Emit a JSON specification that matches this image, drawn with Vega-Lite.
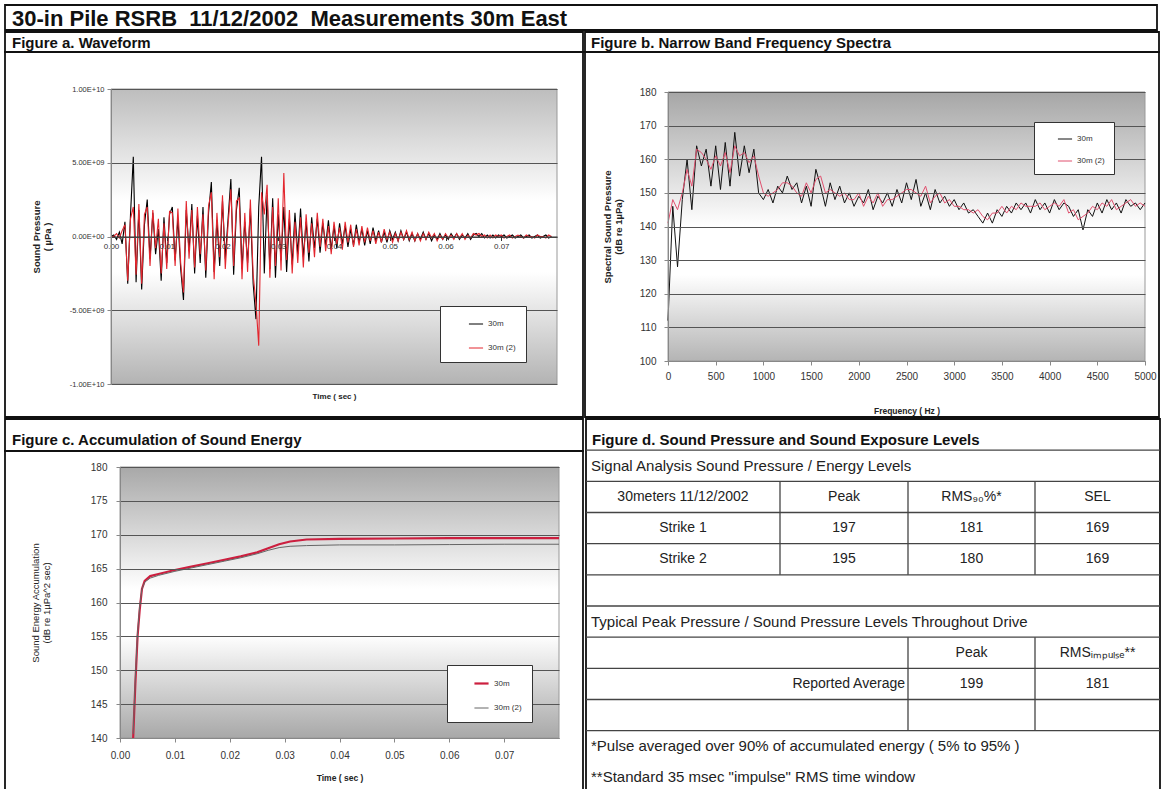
{
"$schema": "https://vega.github.io/schema/vega-lite/v6.json",
"background": "white",
"padding": {"left": 4, "top": 4, "right": 4, "bottom": 0},
"spacing": 0,
"bounds": "full",
"resolve": {"scale": {"x": "independent", "y": "independent", "color": "independent", "strokeWidth": "independent"}, "legend": {"color": "independent", "strokeWidth": "independent"}, "axis": {"x": "independent", "y": "independent"}},
"vconcat": [
{
"width": 1152, "height": 25,
"data": {"values": [{"t": "30-in Pile RSRB \u00a011/12/2002 \u00a0Measurements 30m East"}]},
"mark": {"type": "text", "align": "left", "dx": 7, "dy": 1, "fontSize": 22, "fontWeight": "bold", "color": "#111"},
"encoding": {"text": {"field": "t"}, "x": {"datum": 0, "type": "quantitative", "scale": {"domain": [0, 1]}, "axis": null}}
},
{
"hconcat": [
{
"vconcat": [
{
"width": 578, "height": 20,
"data": {"values": [{"t": "Figure a. Waveform"}]},
"mark": {"type": "text", "align": "left", "dx": 7, "dy": 1, "fontSize": 15, "fontWeight": "bold", "color": "#111"},
"encoding": {"text": {"field": "t"}, "x": {"datum": 0, "type": "quantitative", "scale": {"domain": [0, 1]}, "axis": null}}
},
{
"width": 578, "height": 365,
"layer": [
{
"data": {"values": [{}]},
"mark": {"type": "rect", "stroke": "#999", "strokeWidth": 1, "fill": {"gradient": "linear", "x1": 0, "y1": 0, "x2": 0, "y2": 1, "stops": [{"offset": 0, "color": "#bdbdbd"}, {"offset": 0.38, "color": "#ffffff"}, {"offset": 0.62, "color": "#ffffff"}, {"offset": 1, "color": "#b3b3b3"}]}},
"encoding": {
"x": {"datum": 0, "type": "quantitative", "scale": {"domain": [0, 0.08], "range": [106, 552], "nice": false, "zero": false}},
"x2": {"datum": 0.08},
"y": {"datum": -10000000000, "type": "quantitative", "scale": {"domain": [-10000000000, 10000000000], "range": [332, 37], "nice": false, "zero": false}},
"y2": {"datum": 10000000000}
}
},
{
"data": {"values": [
{"t":0,"30m":0,"30m (2)":0},
{"t":0.0005,"30m":0.1e9,"30m (2)":0},
{"t":0.001,"30m":-0.2e9,"30m (2)":0.2e9},
{"t":0.0015,"30m":0.3e9,"30m (2)":-0.1e9},
{"t":0.002,"30m":-0.5e9,"30m (2)":0.4e9},
{"t":0.0025,"30m":1.0e9,"30m (2)":0.8e9},
{"t":0.003,"30m":-3.2e9,"30m (2)":-3.0e9},
{"t":0.0035,"30m":1.5e9,"30m (2)":1.2e9},
{"t":0.004,"30m":5.4e9,"30m (2)":2.0e9},
{"t":0.0045,"30m":-3.1e9,"30m (2)":-2.6e9},
{"t":0.005,"30m":1.8e9,"30m (2)":2.2e9},
{"t":0.0055,"30m":-3.6e9,"30m (2)":-3.2e9},
{"t":0.006,"30m":0.8e9,"30m (2)":1.5e9},
{"t":0.0065,"30m":2.5e9,"30m (2)":2.0e9},
{"t":0.007,"30m":-1.5e9,"30m (2)":-2.0e9},
{"t":0.0075,"30m":1.6e9,"30m (2)":1.8e9},
{"t":0.008,"30m":-1.2e9,"30m (2)":-0.8e9},
{"t":0.0085,"30m":0.5e9,"30m (2)":1.2e9},
{"t":0.009,"30m":-3.0e9,"30m (2)":-2.5e9},
{"t":0.0095,"30m":1.3e9,"30m (2)":0.9e9},
{"t":0.01,"30m":-1.8e9,"30m (2)":-2.2e9},
{"t":0.0105,"30m":1.5e9,"30m (2)":1.7e9},
{"t":0.011,"30m":2.0e9,"30m (2)":1.6e9},
{"t":0.0115,"30m":-1.6e9,"30m (2)":-2.0e9},
{"t":0.012,"30m":1.2e9,"30m (2)":1.9e9},
{"t":0.0125,"30m":-2.2e9,"30m (2)":-1.8e9},
{"t":0.013,"30m":-4.3e9,"30m (2)":-3.8e9},
{"t":0.0135,"30m":1.8e9,"30m (2)":2.4e9},
{"t":0.014,"30m":-1.0e9,"30m (2)":-1.5e9},
{"t":0.0145,"30m":2.2e9,"30m (2)":1.8e9},
{"t":0.015,"30m":-2.5e9,"30m (2)":-2.1e9},
{"t":0.0155,"30m":1.4e9,"30m (2)":2.0e9},
{"t":0.016,"30m":-1.8e9,"30m (2)":-1.2e9},
{"t":0.0165,"30m":2.0e9,"30m (2)":1.5e9},
{"t":0.017,"30m":-2.8e9,"30m (2)":-2.3e9},
{"t":0.0175,"30m":1.6e9,"30m (2)":2.1e9},
{"t":0.018,"30m":3.7e9,"30m (2)":3.0e9},
{"t":0.0185,"30m":-2.4e9,"30m (2)":-2.9e9},
{"t":0.019,"30m":1.1e9,"30m (2)":1.6e9},
{"t":0.0195,"30m":-2.0e9,"30m (2)":-1.4e9},
{"t":0.02,"30m":2.4e9,"30m (2)":2.8e9},
{"t":0.0205,"30m":-1.5e9,"30m (2)":-2.2e9},
{"t":0.021,"30m":1.2e9,"30m (2)":0.8e9},
{"t":0.0215,"30m":3.9e9,"30m (2)":3.2e9},
{"t":0.022,"30m":-2.6e9,"30m (2)":-2.0e9},
{"t":0.0225,"30m":1.8e9,"30m (2)":2.4e9},
{"t":0.023,"30m":3.3e9,"30m (2)":2.6e9},
{"t":0.0235,"30m":-2.2e9,"30m (2)":-2.9e9},
{"t":0.024,"30m":1.0e9,"30m (2)":1.6e9},
{"t":0.0245,"30m":-1.8e9,"30m (2)":-2.4e9},
{"t":0.025,"30m":1.9e9,"30m (2)":2.5e9},
{"t":0.0255,"30m":-3.2e9,"30m (2)":-2.6e9},
{"t":0.026,"30m":-5.6e9,"30m (2)":-4.5e9},
{"t":0.0265,"30m":2.0e9,"30m (2)":-7.4e9},
{"t":0.027,"30m":5.4e9,"30m (2)":3.0e9},
{"t":0.0275,"30m":-2.5e9,"30m (2)":1.5e9},
{"t":0.028,"30m":2.8e9,"30m (2)":3.5e9},
{"t":0.0285,"30m":-2.2e9,"30m (2)":-2.8e9},
{"t":0.029,"30m":2.6e9,"30m (2)":2.0e9},
{"t":0.0295,"30m":-2.8e9,"30m (2)":-2.0e9},
{"t":0.03,"30m":1.5e9,"30m (2)":2.6e9},
{"t":0.0305,"30m":-1.6e9,"30m (2)":-2.3e9},
{"t":0.031,"30m":2.0e9,"30m (2)":4.3e9},
{"t":0.0315,"30m":-2.4e9,"30m (2)":-1.6e9},
{"t":0.032,"30m":1.2e9,"30m (2)":1.8e9},
{"t":0.0325,"30m":-1.9e9,"30m (2)":-2.5e9},
{"t":0.033,"30m":1.6e9,"30m (2)":1.0e9},
{"t":0.0335,"30m":-1.2e9,"30m (2)":-1.8e9},
{"t":0.034,"30m":1.9e9,"30m (2)":1.3e9},
{"t":0.0345,"30m":-1.4e9,"30m (2)":-2.1e9},
{"t":0.035,"30m":1.0e9,"30m (2)":1.5e9},
{"t":0.0355,"30m":-1.7e9,"30m (2)":-1.1e9},
{"t":0.036,"30m":1.3e9,"30m (2)":0.9e9},
{"t":0.0365,"30m":-0.8e9,"30m (2)":-1.4e9},
{"t":0.037,"30m":1.2e9,"30m (2)":1.6e9},
{"t":0.0375,"30m":-1.1e9,"30m (2)":-0.7e9},
{"t":0.038,"30m":0.9e9,"30m (2)":1.2e9},
{"t":0.0385,"30m":-0.6e9,"30m (2)":-1.0e9},
{"t":0.039,"30m":1.1e9,"30m (2)":0.7e9},
{"t":0.0395,"30m":-0.9e9,"30m (2)":-1.2e9},
{"t":0.04,"30m":0.7e9,"30m (2)":1.0e9},
{"t":0.0405,"30m":-0.8e9,"30m (2)":-0.5e9},
{"t":0.041,"30m":0.9e9,"30m (2)":0.6e9},
{"t":0.0415,"30m":-0.5e9,"30m (2)":-0.9e9},
{"t":0.042,"30m":0.7e9,"30m (2)":1.0e9},
{"t":0.0425,"30m":-0.7e9,"30m (2)":-0.4e9},
{"t":0.043,"30m":0.5e9,"30m (2)":0.8e9},
{"t":0.0435,"30m":-0.6e9,"30m (2)":-0.7e9},
{"t":0.044,"30m":0.8e9,"30m (2)":0.5e9},
{"t":0.0445,"30m":-0.4e9,"30m (2)":-0.6e9},
{"t":0.045,"30m":0.5e9,"30m (2)":0.7e9},
{"t":0.0455,"30m":-0.6e9,"30m (2)":-0.4e9},
{"t":0.046,"30m":0.4e9,"30m (2)":0.6e9},
{"t":0.0465,"30m":-0.5e9,"30m (2)":-0.3e9},
{"t":0.047,"30m":0.6e9,"30m (2)":0.4e9},
{"t":0.0475,"30m":-0.3e9,"30m (2)":-0.5e9},
{"t":0.048,"30m":0.4e9,"30m (2)":0.3e9},
{"t":0.0485,"30m":-0.4e9,"30m (2)":-0.4e9},
{"t":0.049,"30m":0.3e9,"30m (2)":0.5e9},
{"t":0.0495,"30m":-0.4e9,"30m (2)":-0.2e9},
{"t":0.05,"30m":0.4e9,"30m (2)":0.3e9},
{"t":0.0505,"30m":-0.2e9,"30m (2)":-0.4e9},
{"t":0.051,"30m":0.3e9,"30m (2)":0.2e9},
{"t":0.0515,"30m":-0.3e9,"30m (2)":-0.3e9},
{"t":0.052,"30m":0.4e9,"30m (2)":0.3e9},
{"t":0.0525,"30m":-0.2e9,"30m (2)":-0.2e9},
{"t":0.053,"30m":0.3e9,"30m (2)":0.4e9},
{"t":0.0535,"30m":-0.3e9,"30m (2)":-0.2e9},
{"t":0.054,"30m":0.2e9,"30m (2)":0.3e9},
{"t":0.0545,"30m":-0.3e9,"30m (2)":-0.3e9},
{"t":0.055,"30m":0.2e9,"30m (2)":0.2e9},
{"t":0.0555,"30m":-0.2e9,"30m (2)":-0.3e9},
{"t":0.056,"30m":0.3e9,"30m (2)":0.2e9},
{"t":0.0565,"30m":-0.2e9,"30m (2)":-0.2e9},
{"t":0.057,"30m":0.2e9,"30m (2)":0.3e9},
{"t":0.0575,"30m":-0.3e9,"30m (2)":-0.1e9},
{"t":0.058,"30m":0.1e9,"30m (2)":0.2e9},
{"t":0.0585,"30m":-0.2e9,"30m (2)":-0.3e9},
{"t":0.059,"30m":0.2e9,"30m (2)":0.1e9},
{"t":0.0595,"30m":-0.2e9,"30m (2)":-0.2e9},
{"t":0.06,"30m":0.1e9,"30m (2)":0.2e9},
{"t":0.0605,"30m":-0.2e9,"30m (2)":-0.1e9},
{"t":0.061,"30m":0.2e9,"30m (2)":0.1e9},
{"t":0.0615,"30m":-0.1e9,"30m (2)":-0.2e9},
{"t":0.062,"30m":0.2e9,"30m (2)":0.2e9},
{"t":0.0625,"30m":-0.2e9,"30m (2)":-0.1e9},
{"t":0.063,"30m":0.1e9,"30m (2)":0.2e9},
{"t":0.0635,"30m":-0.1e9,"30m (2)":-0.2e9},
{"t":0.064,"30m":0.2e9,"30m (2)":0.1e9},
{"t":0.0645,"30m":-0.2e9,"30m (2)":-0.1e9},
{"t":0.065,"30m":0.1e9,"30m (2)":0.2e9},
{"t":0.0655,"30m":0.2e9,"30m (2)":0.1e9},
{"t":0.066,"30m":0,"30m (2)":0.2e9},
{"t":0.0665,"30m":0.2e9,"30m (2)":0},
{"t":0.067,"30m":-0.1e9,"30m (2)":0.1e9},
{"t":0.0675,"30m":0.1e9,"30m (2)":-0.1e9},
{"t":0.068,"30m":-0.1e9,"30m (2)":0.1e9},
{"t":0.0685,"30m":0.1e9,"30m (2)":-0.1e9},
{"t":0.069,"30m":-0.1e9,"30m (2)":0.1e9},
{"t":0.0695,"30m":0.1e9,"30m (2)":0},
{"t":0.07,"30m":0,"30m (2)":0.1e9},
{"t":0.0705,"30m":0.1e9,"30m (2)":-0.1e9},
{"t":0.071,"30m":-0.1e9,"30m (2)":0},
{"t":0.0715,"30m":0,"30m (2)":0.1e9},
{"t":0.072,"30m":0.1e9,"30m (2)":-0.1e9},
{"t":0.0725,"30m":-0.1e9,"30m (2)":0},
{"t":0.073,"30m":0,"30m (2)":0.1e9},
{"t":0.0735,"30m":0.1e9,"30m (2)":0},
{"t":0.074,"30m":-0.1e9,"30m (2)":-0.1e9},
{"t":0.0745,"30m":0,"30m (2)":0.1e9},
{"t":0.075,"30m":0.1e9,"30m (2)":0},
{"t":0.0755,"30m":-0.1e9,"30m (2)":0},
{"t":0.076,"30m":0,"30m (2)":-0.1e9},
{"t":0.0765,"30m":0.1e9,"30m (2)":0.1e9},
{"t":0.077,"30m":-0.1e9,"30m (2)":0},
{"t":0.0775,"30m":0,"30m (2)":0},
{"t":0.078,"30m":0.1e9,"30m (2)":-0.1e9},
{"t":0.0785,"30m":-0.1e9,"30m (2)":0.1e9},
{"t":0.079,"30m":0,"30m (2)":0}
]},
"transform": [{"fold": ["30m", "30m (2)"], "as": ["series", "p"]}],
"mark": {"type": "line", "strokeWidth": 1.1},
"encoding": {
"x": {"field": "t", "type": "quantitative", "scale": {"domain": [0, 0.08], "range": [106, 552], "nice": false, "zero": false},
"axis": {"title": "Time ( sec )", "values": [0, 0.01, 0.02, 0.03, 0.04, 0.05, 0.06, 0.07], "format": ".2f", "offset": -180.5, "zindex": 1, "domainColor": "#333", "tickColor": "#333", "tickSize": 4, "labelFontSize": 8, "labelPadding": 2, "titleFontSize": 8, "titleFontWeight": "bold", "titleY": 160, "titleBaseline": "middle"}},
"y": {"field": "p", "type": "quantitative", "scale": {"domain": [-10000000000, 10000000000], "range": [332, 37], "nice": false, "zero": false},
"axis": {"title": ["Sound Pressure", "( µPa )"], "values": [-10000000000, -5000000000, 0, 5000000000, 10000000000], "labelExpr": "datum.value == 0 ? '0.00E+00' : datum.value > 9e9 ? '1.00E+10' : datum.value > 0 ? '5.00E+09' : datum.value < -9e9 ? '-1.00E+10' : '-5.00E+09'", "offset": -106, "zindex": 1, "grid": true, "gridColor": "#555", "gridWidth": 1.2, "tickSize": 4, "labelFontSize": 7.5, "labelPadding": 3, "titleFontSize": 9.5, "titleFontWeight": "bold", "titleX": -70}},
"color": {"field": "series", "type": "nominal", "scale": {"domain": ["30m", "30m (2)"], "range": ["#000000", "#e3262e"]},
"legend": {"title": null, "orient": "none", "legendX": 435, "legendY": 254, "zindex": 3, "fillColor": "white", "strokeColor": "#333", "padding": 10, "symbolType": "stroke", "symbolSize": 200, "symbolStrokeWidth": 1, "labelFontSize": 8, "rowPadding": 12, "symbolOffset": 18}}
}
}
]
}
],
"spacing": 0, "bounds": "flush",
"resolve": {"scale": {"x": "independent", "y": "independent", "color": "independent"}, "legend": {"color": "independent"}}
},
{
"vconcat": [
{
"width": 574, "height": 20,
"data": {"values": [{"t": "Figure b. Narrow Band Frequency Spectra"}]},
"mark": {"type": "text", "align": "left", "dx": 6, "dy": 1, "fontSize": 15, "fontWeight": "bold", "color": "#111"},
"encoding": {"text": {"field": "t"}, "x": {"datum": 0, "type": "quantitative", "scale": {"domain": [0, 1]}, "axis": null}}
},
{
"width": 574, "height": 365,
"layer": [
{
"data": {"values": [{}]},
"mark": {"type": "rect", "stroke": "#999", "strokeWidth": 1, "fill": {"gradient": "linear", "x1": 0, "y1": 0, "x2": 0, "y2": 1, "stops": [{"offset": 0, "color": "#a6a6a6"}, {"offset": 0.5, "color": "#ffffff"}, {"offset": 0.68, "color": "#ffffff"}, {"offset": 1, "color": "#b4b4b4"}]}},
"encoding": {
"x": {"datum": 0, "type": "quantitative", "scale": {"domain": [0, 5000], "range": [83, 560], "nice": false, "zero": false}},
"x2": {"datum": 5000},
"y": {"datum": 100, "type": "quantitative", "scale": {"domain": [100, 180], "range": [309, 40], "nice": false, "zero": false}},
"y2": {"datum": 180}
}
},
{
"data": {"values": [
{"f":0,"30m":112,"30m (2)":141},{"f":50,"30m":146,"30m (2)":148},{"f":100,"30m":128,"30m (2)":145},{"f":150,"30m":148,"30m (2)":150},
{"f":200,"30m":160,"30m (2)":157},{"f":250,"30m":145,"30m (2)":152},{"f":300,"30m":164,"30m (2)":163},{"f":350,"30m":158,"30m (2)":162},
{"f":400,"30m":163,"30m (2)":160},{"f":450,"30m":152,"30m (2)":157},{"f":500,"30m":164,"30m (2)":161},{"f":550,"30m":151,"30m (2)":158},
{"f":600,"30m":165,"30m (2)":162},{"f":650,"30m":152,"30m (2)":156},{"f":700,"30m":168,"30m (2)":164},{"f":750,"30m":155,"30m (2)":161},
{"f":800,"30m":164,"30m (2)":162},{"f":850,"30m":156,"30m (2)":159},{"f":900,"30m":163,"30m (2)":161},{"f":950,"30m":150,"30m (2)":155},
{"f":1000,"30m":148,"30m (2)":150},{"f":1050,"30m":151,"30m (2)":149},{"f":1100,"30m":147,"30m (2)":150},{"f":1150,"30m":152,"30m (2)":151},
{"f":1200,"30m":150,"30m (2)":153},{"f":1250,"30m":155,"30m (2)":153},{"f":1300,"30m":151,"30m (2)":152},{"f":1350,"30m":153,"30m (2)":150},
{"f":1400,"30m":147,"30m (2)":149},{"f":1450,"30m":152,"30m (2)":153},{"f":1500,"30m":146,"30m (2)":150},{"f":1550,"30m":157,"30m (2)":154},
{"f":1600,"30m":152,"30m (2)":155},{"f":1650,"30m":146,"30m (2)":150},{"f":1700,"30m":153,"30m (2)":151},{"f":1750,"30m":148,"30m (2)":150},
{"f":1800,"30m":152,"30m (2)":149},{"f":1850,"30m":147,"30m (2)":150},{"f":1900,"30m":150,"30m (2)":148},{"f":1950,"30m":146,"30m (2)":148},
{"f":2000,"30m":149,"30m (2)":150},{"f":2050,"30m":147,"30m (2)":146},{"f":2100,"30m":151,"30m (2)":149},{"f":2150,"30m":145,"30m (2)":147},
{"f":2200,"30m":149,"30m (2)":150},{"f":2250,"30m":147,"30m (2)":146},{"f":2300,"30m":150,"30m (2)":148},{"f":2350,"30m":146,"30m (2)":148},
{"f":2400,"30m":151,"30m (2)":149},{"f":2450,"30m":147,"30m (2)":150},{"f":2500,"30m":153,"30m (2)":151},{"f":2550,"30m":148,"30m (2)":151},
{"f":2600,"30m":154,"30m (2)":150},{"f":2650,"30m":146,"30m (2)":149},{"f":2700,"30m":150,"30m (2)":152},{"f":2750,"30m":145,"30m (2)":147},
{"f":2800,"30m":151,"30m (2)":149},{"f":2850,"30m":147,"30m (2)":150},{"f":2900,"30m":149,"30m (2)":147},{"f":2950,"30m":146,"30m (2)":148},
{"f":3000,"30m":148,"30m (2)":146},{"f":3050,"30m":145,"30m (2)":146},{"f":3100,"30m":147,"30m (2)":145},{"f":3150,"30m":144,"30m (2)":145},
{"f":3200,"30m":145,"30m (2)":144},{"f":3250,"30m":143,"30m (2)":145},{"f":3300,"30m":141,"30m (2)":143},{"f":3350,"30m":144,"30m (2)":142},
{"f":3400,"30m":141,"30m (2)":144},{"f":3450,"30m":145,"30m (2)":144},{"f":3500,"30m":143,"30m (2)":146},{"f":3550,"30m":146,"30m (2)":144},
{"f":3600,"30m":144,"30m (2)":146},{"f":3650,"30m":147,"30m (2)":145},{"f":3700,"30m":145,"30m (2)":147},{"f":3750,"30m":147,"30m (2)":146},
{"f":3800,"30m":144,"30m (2)":146},{"f":3850,"30m":148,"30m (2)":146},{"f":3900,"30m":145,"30m (2)":147},{"f":3950,"30m":147,"30m (2)":145},
{"f":4000,"30m":144,"30m (2)":146},{"f":4050,"30m":148,"30m (2)":147},{"f":4100,"30m":145,"30m (2)":146},{"f":4150,"30m":147,"30m (2)":148},
{"f":4200,"30m":146,"30m (2)":144},{"f":4250,"30m":143,"30m (2)":145},{"f":4300,"30m":145,"30m (2)":142},{"f":4350,"30m":139,"30m (2)":143},
{"f":4400,"30m":145,"30m (2)":144},{"f":4450,"30m":143,"30m (2)":146},{"f":4500,"30m":147,"30m (2)":145},{"f":4550,"30m":144,"30m (2)":147},
{"f":4600,"30m":148,"30m (2)":146},{"f":4650,"30m":145,"30m (2)":148},{"f":4700,"30m":147,"30m (2)":145},{"f":4750,"30m":144,"30m (2)":146},
{"f":4800,"30m":148,"30m (2)":147},{"f":4850,"30m":146,"30m (2)":148},{"f":4900,"30m":147,"30m (2)":146},{"f":4950,"30m":145,"30m (2)":147},
{"f":5000,"30m":147,"30m (2)":146}
]},
"transform": [{"fold": ["30m", "30m (2)"], "as": ["series", "db"]}],
"mark": {"type": "line", "strokeWidth": 1},
"encoding": {
"x": {"field": "f", "type": "quantitative", "scale": {"domain": [0, 5000], "range": [83, 560], "nice": false, "zero": false},
"axis": {"title": "Frequency ( Hz )", "values": [0, 500, 1000, 1500, 2000, 2500, 3000, 3500, 4000, 4500, 5000], "format": "d", "offset": -56, "zindex": 1, "tickSize": 4, "labelFontSize": 10, "labelPadding": 6, "titleFontSize": 8.5, "titleFontWeight": "bold", "titleY": 49, "titleBaseline": "middle"}},
"y": {"field": "db", "type": "quantitative", "scale": {"domain": [100, 180], "range": [309, 40], "nice": false, "zero": false},
"axis": {"title": ["Spectral Sound Pressure", "(dB re 1µPa)"], "values": [100, 110, 120, 130, 140, 150, 160, 170, 180], "offset": -83, "zindex": 1, "grid": true, "gridColor": "#555", "gridWidth": 1.2, "tickSize": 4, "labelFontSize": 10, "labelPadding": 8, "titleFontSize": 9.5, "titleFontWeight": "bold", "titleX": -56}},
"color": {"field": "series", "type": "nominal", "scale": {"domain": ["30m", "30m (2)"], "range": ["#111111", "#e0506e"]},
"legend": {"title": null, "orient": "none", "legendX": 449, "legendY": 70, "zindex": 3, "fillColor": "white", "strokeColor": "#333", "padding": 9, "symbolType": "stroke", "symbolSize": 200, "symbolStrokeWidth": 1, "labelFontSize": 8, "rowPadding": 10, "symbolOffset": 14}}
}
}
]
}
],
"spacing": 0, "bounds": "flush",
"resolve": {"scale": {"x": "independent", "y": "independent", "color": "independent"}, "legend": {"color": "independent"}}
}
],
"spacing": 0, "bounds": "full",
"resolve": {"scale": {"x": "independent", "y": "independent", "color": "independent"}, "legend": {"color": "independent"}, "axis": {"x": "independent", "y": "independent"}}
},
{
"hconcat": [
{
"vconcat": [
{
"width": 578, "height": 32,
"data": {"values": [{"t": "Figure c. Accumulation of Sound Energy"}]},
"mark": {"type": "text", "align": "left", "dx": 7, "dy": 5, "fontSize": 15, "fontWeight": "bold", "color": "#111"},
"encoding": {"text": {"field": "t"}, "x": {"datum": 0, "type": "quantitative", "scale": {"domain": [0, 1]}, "axis": null}}
},
{
"width": 578, "height": 342,
"layer": [
{
"data": {"values": [{}]},
"mark": {"type": "rect", "stroke": "#999", "strokeWidth": 1, "fill": {"gradient": "linear", "x1": 0, "y1": 0, "x2": 0, "y2": 1, "stops": [{"offset": 0, "color": "#a8a8a8"}, {"offset": 0.45, "color": "#ffffff"}, {"offset": 0.62, "color": "#ffffff"}, {"offset": 1, "color": "#a8a8a8"}]}},
"encoding": {
"x": {"datum": 0, "type": "quantitative", "scale": {"domain": [0, 0.08], "range": [115, 554], "nice": false, "zero": false}},
"x2": {"datum": 0.08},
"y": {"datum": 140, "type": "quantitative", "scale": {"domain": [140, 180], "range": [287, 16], "nice": false, "zero": false}},
"y2": {"datum": 180}
}
},
{
"data": {"values": [
{"t":0.0024,"30m":140,"30m (2)":140.6},
{"t":0.0028,"30m":148,"30m (2)":149},
{"t":0.0032,"30m":155,"30m (2)":155.5},
{"t":0.0036,"30m":159,"30m (2)":159.5},
{"t":0.004,"30m":162,"30m (2)":162},
{"t":0.0045,"30m":163.2,"30m (2)":163},
{"t":0.0055,"30m":163.9,"30m (2)":163.6},
{"t":0.007,"30m":164.2,"30m (2)":164},
{"t":0.01,"30m":164.8,"30m (2)":164.6},
{"t":0.013,"30m":165.3,"30m (2)":165.1},
{"t":0.016,"30m":165.8,"30m (2)":165.6},
{"t":0.019,"30m":166.3,"30m (2)":166.1},
{"t":0.022,"30m":166.8,"30m (2)":166.6},
{"t":0.025,"30m":167.4,"30m (2)":167.2},
{"t":0.027,"30m":168.0,"30m (2)":167.7},
{"t":0.029,"30m":168.6,"30m (2)":168.1},
{"t":0.031,"30m":169.0,"30m (2)":168.3},
{"t":0.034,"30m":169.3,"30m (2)":168.4},
{"t":0.04,"30m":169.4,"30m (2)":168.5},
{"t":0.05,"30m":169.45,"30m (2)":168.5},
{"t":0.06,"30m":169.5,"30m (2)":168.55},
{"t":0.07,"30m":169.5,"30m (2)":168.6},
{"t":0.08,"30m":169.5,"30m (2)":168.6}
]},
"transform": [{"fold": ["30m", "30m (2)"], "as": ["series", "acc"]}],
"mark": {"type": "line"},
"encoding": {
"x": {"field": "t", "type": "quantitative", "scale": {"domain": [0, 0.08], "range": [115, 554], "nice": false, "zero": false},
"axis": {"title": "Time ( sec )", "values": [0, 0.01, 0.02, 0.03, 0.04, 0.05, 0.06, 0.07], "format": ".2f", "offset": -55, "zindex": 1, "tickSize": 4, "labelFontSize": 10, "labelPadding": 8, "titleFontSize": 8.5, "titleFontWeight": "bold", "titleY": 39, "titleBaseline": "middle"}},
"y": {"field": "acc", "type": "quantitative", "scale": {"domain": [140, 180], "range": [287, 16], "nice": false, "zero": false},
"axis": {"title": ["Sound Energy Accumulation", "(dB re 1µPa^2 sec)"], "values": [140, 145, 150, 155, 160, 165, 170, 175, 180], "offset": -115, "zindex": 1, "grid": true, "gridColor": "#555", "gridWidth": 1.1, "tickSize": 4, "labelFontSize": 10, "labelPadding": 9, "titleFontSize": 9.5, "titleFontWeight": "normal", "titleX": -80}},
"color": {"field": "series", "type": "ordinal", "scale": {"domain": ["30m", "30m (2)"], "range": ["#cc1f3f", "#666666"]},
"legend": {"title": null, "orient": "none", "legendX": 442, "legendY": 214, "zindex": 3, "fillColor": "white", "strokeColor": "#333", "padding": 10, "symbolType": "stroke", "symbolSize": 200, "labelFontSize": 8, "rowPadding": 12, "symbolOffset": 16}},
"strokeWidth": {"field": "series", "type": "ordinal", "scale": {"domain": ["30m", "30m (2)"], "range": [2.2, 1]},
"legend": {"title": null, "orient": "none", "legendX": 442, "legendY": 214, "zindex": 3, "fillColor": "white", "strokeColor": "#333", "padding": 10, "symbolType": "stroke", "symbolSize": 200, "labelFontSize": 8, "rowPadding": 12, "symbolOffset": 16}}
}
}
]
}
],
"spacing": 0, "bounds": "flush",
"resolve": {"scale": {"x": "independent", "y": "independent", "color": "independent", "strokeWidth": "independent"}, "legend": {"color": "independent", "strokeWidth": "independent"}}
},
{
"width": 574, "height": 374,
"layer": [
{
"data": {"values": [{"r":1},{"r":2},{"r":3},{"r":4},{"r":5},{"r":6},{"r":7},{"r":8},{"r":9},{"r":10}]},
"mark": {"type": "rule", "color": "#444", "strokeWidth": 1.3},
"encoding": {
"y": {"field": "r", "type": "quantitative", "scale": {"domain": [0, 12], "range": [0, 374], "nice": false, "zero": false}, "axis": null},
"x": {"datum": 0, "type": "quantitative", "scale": {"domain": [0, 1, 2, 3, 4], "range": [0, 194, 322, 449, 574], "nice": false, "zero": false}, "axis": null},
"x2": {"datum": 4}
}
},
{
"data": {"values": [{"c":1,"r1":2,"r2":5},{"c":2,"r1":2,"r2":5},{"c":3,"r1":2,"r2":5},{"c":2,"r1":7,"r2":10},{"c":3,"r1":7,"r2":10}]},
"mark": {"type": "rule", "color": "#444", "strokeWidth": 1.3},
"encoding": {
"x": {"field": "c", "type": "quantitative", "scale": {"domain": [0, 1, 2, 3, 4], "range": [0, 194, 322, 449, 574], "nice": false, "zero": false}, "axis": null},
"y": {"field": "r1", "type": "quantitative", "scale": {"domain": [0, 12], "range": [0, 374], "nice": false, "zero": false}, "axis": null},
"y2": {"field": "r2"}
}
},
{
"data": {"values": [{"r": 0.5, "c": 0, "t": "Figure d. Sound Pressure and Sound Exposure Levels"}]},
"mark": {"type": "text", "align": "left", "dx": 6, "dy": 5, "fontSize": 15, "fontWeight": "bold", "color": "#111"},
"encoding": {
"x": {"field": "c", "type": "quantitative", "scale": {"domain": [0, 1, 2, 3, 4], "range": [0, 194, 322, 449, 574], "nice": false, "zero": false}, "axis": null},
"y": {"field": "r", "type": "quantitative", "scale": {"domain": [0, 12], "range": [0, 374], "nice": false, "zero": false}, "axis": null},
"text": {"field": "t"}
}
},
{
"data": {"values": [
{"r": 1.5, "c": 0, "t": "Signal Analysis Sound Pressure / Energy Levels"},
{"r": 6.5, "c": 0, "t": "Typical Peak Pressure / Sound Pressure Levels Throughout Drive"},
{"r": 10.5, "c": 0, "t": "*Pulse averaged over 90% of accumulated energy ( 5% to 95% )"},
{"r": 11.5, "c": 0, "t": "**Standard 35 msec \"impulse\" RMS time window"}
]},
"mark": {"type": "text", "align": "left", "dx": 5, "fontSize": 15, "color": "#222"},
"encoding": {
"x": {"field": "c", "type": "quantitative", "scale": {"domain": [0, 1, 2, 3, 4], "range": [0, 194, 322, 449, 574], "nice": false, "zero": false}, "axis": null},
"y": {"field": "r", "type": "quantitative", "scale": {"domain": [0, 12], "range": [0, 374], "nice": false, "zero": false}, "axis": null},
"text": {"field": "t"}
}
},
{
"data": {"values": [
{"r": 2.5, "c": 0.5, "t": "30meters 11/12/2002"},
{"r": 2.5, "c": 1.5, "t": "Peak"},
{"r": 2.5, "c": 2.5, "t": "RMS₉₀%*"},
{"r": 2.5, "c": 3.5, "t": "SEL"},
{"r": 3.5, "c": 0.5, "t": "Strike 1"},
{"r": 3.5, "c": 1.5, "t": "197"},
{"r": 3.5, "c": 2.5, "t": "181"},
{"r": 3.5, "c": 3.5, "t": "169"},
{"r": 4.5, "c": 0.5, "t": "Strike 2"},
{"r": 4.5, "c": 1.5, "t": "195"},
{"r": 4.5, "c": 2.5, "t": "180"},
{"r": 4.5, "c": 3.5, "t": "169"},
{"r": 7.5, "c": 2.5, "t": "Peak"},
{"r": 7.5, "c": 3.5, "t": "RMSᵢₘₚᵤₗₛₑ**"},
{"r": 8.5, "c": 2.5, "t": "199"},
{"r": 8.5, "c": 3.5, "t": "181"}
]},
"mark": {"type": "text", "align": "center", "fontSize": 14, "color": "#222"},
"encoding": {
"x": {"field": "c", "type": "quantitative", "scale": {"domain": [0, 1, 2, 3, 4], "range": [0, 194, 322, 449, 574], "nice": false, "zero": false}, "axis": null},
"y": {"field": "r", "type": "quantitative", "scale": {"domain": [0, 12], "range": [0, 374], "nice": false, "zero": false}, "axis": null},
"text": {"field": "t"}
}
},
{
"data": {"values": [{"r": 8.5, "c": 2, "t": "Reported Average"}]},
"mark": {"type": "text", "align": "right", "dx": -3, "fontSize": 14, "color": "#222"},
"encoding": {
"x": {"field": "c", "type": "quantitative", "scale": {"domain": [0, 1, 2, 3, 4], "range": [0, 194, 322, 449, 574], "nice": false, "zero": false}, "axis": null},
"y": {"field": "r", "type": "quantitative", "scale": {"domain": [0, 12], "range": [0, 374], "nice": false, "zero": false}, "axis": null},
"text": {"field": "t"}
}
}
]
}
],
"spacing": 0, "bounds": "full",
"resolve": {"scale": {"x": "independent", "y": "independent", "color": "independent", "strokeWidth": "independent"}, "legend": {"color": "independent", "strokeWidth": "independent"}, "axis": {"x": "independent", "y": "independent"}}
}
],
"config": {
"font": "Liberation Sans",
"view": {"stroke": "#111", "strokeWidth": 1.8},
"axis": {"labelFont": "Liberation Sans", "titleFont": "Liberation Sans", "labelColor": "#333", "titleColor": "#222", "domainColor": "#888", "tickColor": "#888", "labelFlush": false, "labelOverlap": false, "zindex": 1, "grid": false},
"legend": {"labelFont": "Liberation Sans", "labelColor": "#333"},
"text": {"font": "Liberation Sans"}
}
}
